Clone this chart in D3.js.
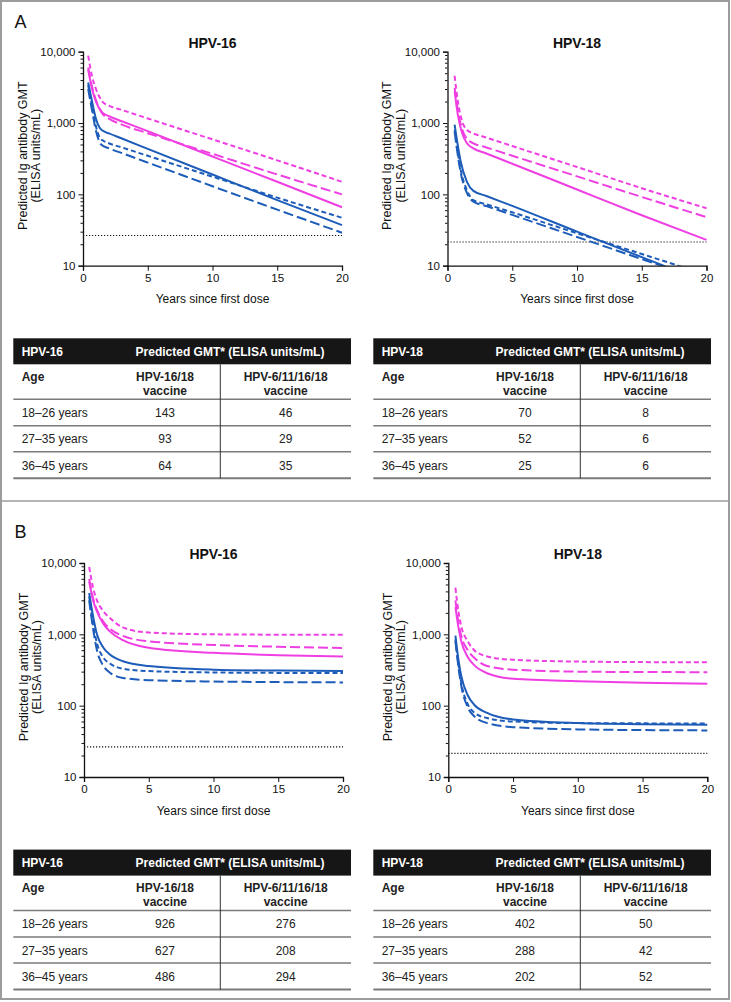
<!DOCTYPE html>
<html><head><meta charset="utf-8">
<script src="https://cdn.jsdelivr.net/npm/d3@7"></script>
<style>
html,body{margin:0;padding:0;background:#fff;}
svg{display:block;font-family:"Liberation Sans",Arial,Helvetica,sans-serif;}
</style></head>
<body>
<svg id="fig" width="731" height="1002"></svg>
<script>
// ---------------- DATA ----------------
const xTicks = [0, 5, 10, 15, 20];
const yMajorTicks = [10, 100, 1000, 10000];
const ageGroups = ["18–26 years", "27–35 years", "36–45 years"];
const vaccineCols = [["HPV-16/18", "vaccine"], ["HPV-6/11/16/18", "vaccine"]];

// Panel A – HPV-16 ([year, GMT])
const A16_pinkShort = [[0.4,8800],[0.7,4500],[1,3000],[1.5,2000],[2,1750],[3,1527],[5,1160],[10,590],[15,300],[20,150]];
const A16_pinkLong  = [[0.4,6000],[0.7,3200],[1,2100],[1.5,1350],[2,1150],[3,950],[5,720],[10,370],[15,190],[20,100]];
const A16_pinkSolid = [[0.4,5600],[0.7,3000],[1,2000],[1.5,1400],[2,1250],[3,1060],[5,770],[10,340],[15,150],[20,66]];
const A16_blueSolid = [[0.4,3700],[0.7,2000],[1,1150],[1.3,850],[1.7,750],[2,716],[3,606],[5,435],[10,190],[15,83],[20,37]];
const A16_blueShort = [[0.4,3400],[0.7,1700],[1,900],[1.3,620],[1.6,560],[2,520],[3,455],[5,347],[10,177],[15,90],[20,47]];
const A16_blueLong  = [[0.4,3000],[0.7,1500],[1,780],[1.4,500],[2,442],[3,379],[5,279],[10,130],[15,61],[20,29]];
// Panel A – HPV-18
const A18_pinkShort = [[0.55,4600],[0.8,2000],[1.1,1100],[1.5,800],[2,716],[3,625],[5,476],[10,242],[15,122],[20,64]];
const A18_pinkLong  = [[0.55,3100],[0.8,1500],[1.1,850],[1.5,600],[2,520],[3,455],[5,348],[10,179],[15,92],[20,48]];
const A18_pinkSolid = [[0.55,2800],[0.8,1300],[1.1,750],[1.5,520],[2,442],[3,374],[5,269],[10,117],[15,51],[20,23]];
const A18_blueSolid = [[0.55,950],[0.8,480],[1,300],[1.5,150],[2,112],[3,95],[5,69],[10,30],[15,13.2],[20,5.8]];
const A18_blueShort = [[0.55,800],[0.8,380],[1,230],[1.5,115],[2,83],[3,72.6],[5,56],[10,28.5],[15,14.6],[20,7.5]];
const A18_blueLong  = [[0.55,750],[0.8,350],[1,210],[1.5,105],[2,79],[3,68.6],[5,51.5],[10,25.3],[15,12.4],[20,6.1]];
// Panel B – HPV-16
const B16_pinkShort = [[0.4,8800],[0.7,4500],[1,3000],[1.5,2100],[2,1700],[3,1250],[5,1060],[10,1000],[15,990],[20,990]];
const B16_pinkLong  = [[0.4,6000],[0.7,3200],[1,2200],[1.5,1500],[2,1200],[3,950],[5,800],[10,710],[15,670],[20,645]];
const B16_pinkSolid = [[0.4,5500],[0.7,3000],[1,2100],[1.5,1400],[2,1100],[3,830],[5,650],[10,550],[15,510],[20,490]];
const B16_blueSolid = [[0.4,3800],[0.7,1800],[1,1000],[1.5,650],[2,520],[3,420],[5,360],[10,320],[15,310],[20,305]];
const B16_blueShort = [[0.4,3400],[0.7,1400],[1,750],[1.5,470],[2,390],[3,330],[5,305],[10,292],[15,288],[20,286]];
const B16_blueLong  = [[0.4,3000],[0.7,1200],[1,600],[1.5,360],[2,290],[3,245],[5,228],[10,218],[15,214],[20,212]];
// Panel B – HPV-18
const B18_pinkShort = [[0.55,4500],[0.8,2000],[1,1300],[1.5,800],[2,600],[3,490],[5,440],[10,415],[15,408],[20,405]];
const B18_pinkLong  = [[0.55,3000],[0.8,1400],[1,950],[1.5,600],[2,470],[3,360],[5,320],[10,300],[15,296],[20,295]];
const B18_pinkSolid = [[0.55,2400],[0.8,1200],[1,800],[1.5,480],[2,370],[3,285],[5,238],[10,220],[15,210],[20,203]];
const B18_blueSolid = [[0.55,960],[0.8,420],[1,260],[1.5,140],[2,103],[3,79],[5,64],[10,57],[15,55],[20,54]];
const B18_blueShort = [[0.55,850],[0.8,360],[1,210],[1.5,105],[2,80],[3,67],[5,60],[10,57],[15,56.5],[20,56]];
const B18_blueLong  = [[0.55,800],[0.8,330],[1,190],[1.5,95],[2,71],[3,57],[5,50],[10,46.5],[15,45.5],[20,45]];

// cut-off (dotted) levels
const cutoffHPV16 = 26.5;
const cutoffHPV18 = 21.5;

// Tables
const tA16_bivalent = [143, 93, 64];
const tA16_quad     = [46, 29, 35];
const tA18_bivalent = [70, 52, 25];
const tA18_quad     = [8, 6, 6];
const tB16_bivalent = [926, 627, 486];
const tB16_quad     = [276, 208, 294];
const tB18_bivalent = [402, 288, 202];
const tB18_quad     = [50, 42, 52];

// ---------------- DRAWING ----------------
const PINK = "#ef3fe2", BLUE = "#1d5cb9";
const styles = {
  solid: null,
  long: "10,4",
  short: "5,3"
};
const svg = d3.select("#fig");

// panel borders
svg.append("rect").attr("x",1).attr("y",1).attr("width",728).attr("height",998)
  .attr("fill","none").attr("stroke","#9c9c9c").attr("stroke-width",2);
svg.append("line").attr("x1",1).attr("x2",729).attr("y1",501).attr("y2",501)
  .attr("stroke","#9c9c9c").attr("stroke-width",1.5);

const W = 259, H = 214;
let clipId = 0;

function drawChart(left, top, title, series, cutoff) {
  const g = svg.append("g").attr("transform", `translate(${left},${top})`);
  const x = d3.scaleLinear().domain([0,20]).range([0,W]);
  const y = d3.scaleLog().domain([10,10000]).range([H,0]);

  const cid = "clip" + (clipId++);
  g.append("clipPath").attr("id", cid).append("rect")
    .attr("x",0).attr("y",-2).attr("width",W+3).attr("height",H+2);

  // title
  g.append("text").attr("x", W/2).attr("y", -3.7).attr("text-anchor","middle")
    .attr("font-weight","bold").attr("font-size","14px").attr("fill","#111").text(title);

  // lines
  const line = d3.line().x(d=>x(d[0])).y(d=>y(d[1])).curve(d3.curveMonotoneX);
  const plot = g.append("g").attr("clip-path", `url(#${cid})`);
  // cutoff
  plot.append("line").attr("x1",x(0)).attr("x2",x(20)).attr("y1",y(cutoff)).attr("y2",y(cutoff))
    .attr("stroke","#111").attr("stroke-width",1.2).attr("stroke-dasharray","1.2,1.8");
  series.forEach(s => {
    plot.append("path").datum(s.data).attr("d", line)
      .attr("fill","none").attr("stroke", s.color).attr("stroke-width",2)
      .attr("stroke-dasharray", styles[s.style]);
  });

  // axes
  const minorTicks = y.ticks().filter(v => yMajorTicks.indexOf(v) < 0);
  const yMinor = g.append("g").call(d3.axisLeft(y).tickValues(minorTicks).tickSize(2.5).tickFormat(""));
  const yMajor = g.append("g").call(d3.axisLeft(y).tickValues(yMajorTicks).tickSize(4.5).tickPadding(3)
      .tickFormat(d3.format(",")));
  const xAx = g.append("g").attr("transform",`translate(0,${H})`)
      .call(d3.axisBottom(x).tickValues(xTicks).tickSize(5).tickPadding(3));
  [yMinor, yMajor, xAx].forEach(a => {
    a.select(".domain").attr("stroke","#111").attr("stroke-width",1.3);
    a.selectAll(".tick line").attr("stroke","#111").attr("stroke-width",1);
    a.selectAll("text").attr("font-size","11.5px").attr("fill","#111")
      .attr("font-family",'"Liberation Sans",Arial,sans-serif');
  });
  yMinor.select(".domain").remove();

  // axis titles
  g.append("text").attr("x", W/2).attr("y", H + 37.5).attr("text-anchor","middle")
    .attr("font-size","12px").attr("fill","#111").text("Years since first dose");
  const yl = g.append("text").attr("transform", `translate(0,${H/2 - 3}) rotate(-90)`)
    .attr("text-anchor","middle").attr("font-size","12.5px").attr("fill","#111");
  yl.append("tspan").attr("x",0).attr("y",-56.5).text("Predicted Ig antibody GMT");
  yl.append("tspan").attr("x",0).attr("y",-43).text("(ELISA units/mL)");
}

function drawTable(left, top, label, bival, quad) {
  const g = svg.append("g").attr("transform", `translate(${left},${top})`);
  const TW = 337.7, div = 207, c2 = 151.7, c3 = 272.4;
  g.append("rect").attr("x",0).attr("y",0).attr("width",TW).attr("height",26).attr("fill","#161616");
  g.append("text").attr("x",8.4).attr("y",17.5).attr("fill","#fff").attr("font-weight","bold")
    .attr("font-size","12px").text(label);
  g.append("text").attr("x",216.7).attr("y",17.5).attr("fill","#fff").attr("font-weight","bold")
    .attr("font-size","12px").attr("text-anchor","middle").text("Predicted GMT* (ELISA units/mL)");
  // header row 2
  g.append("text").attr("x",8.4).attr("y",42.3).attr("font-weight","bold").attr("font-size","12px")
    .attr("fill","#222").text("Age");
  [c2, c3].forEach((cx, i) => {
    g.append("text").attr("x",cx).attr("y",42.3).attr("text-anchor","middle").attr("font-weight","bold")
      .attr("font-size","12px").attr("fill","#222").text(vaccineCols[i][0]);
    g.append("text").attr("x",cx).attr("y",56.3).attr("text-anchor","middle").attr("font-weight","bold")
      .attr("font-size","12px").attr("fill","#222").text(vaccineCols[i][1]);
  });
  const lineYs = [61, 87.4, 113.4, 140];
  lineYs.forEach((ly, i) => {
    g.append("line").attr("x1",0).attr("x2",TW).attr("y1",ly).attr("y2",ly)
      .attr("stroke","#7a7a7a").attr("stroke-width", i === 3 ? 2 : 1.5);
  });
  g.append("line").attr("x1",div).attr("x2",div).attr("y1",26).attr("y2",140)
    .attr("stroke","#333").attr("stroke-width",1);
  const rowCenters = [74.4, 100.7, 127];
  ageGroups.forEach((a, i) => {
    const by = rowCenters[i] + 4.3;
    g.append("text").attr("x",8.4).attr("y",by).attr("font-size","12px").attr("fill","#222").text(a);
    g.append("text").attr("x",c2).attr("y",by).attr("text-anchor","middle").attr("font-size","12px")
      .attr("fill","#222").text(bival[i]);
    g.append("text").attr("x",c3).attr("y",by).attr("text-anchor","middle").attr("font-size","12px")
      .attr("fill","#222").text(quad[i]);
  });
}

function mk(ps, pl, pso, bs, bsh, bl) {
  return [
    {data: ps, color: PINK, style: "short"},
    {data: pl, color: PINK, style: "long"},
    {data: pso, color: PINK, style: "solid"},
    {data: bs, color: BLUE, style: "solid"},
    {data: bsh, color: BLUE, style: "short"},
    {data: bl, color: BLUE, style: "long"}
  ];
}

const OFF = 511.3;
// Panel letters
svg.append("text").attr("x",14.5).attr("y",27.7).attr("font-size","18px").attr("fill","#111").text("A");
svg.append("text").attr("x",14.5).attr("y",27.7+OFF-1).attr("font-size","18px").attr("fill","#111").text("B");

drawChart(83, 51.7, "HPV-16", mk(A16_pinkShort,A16_pinkLong,A16_pinkSolid,A16_blueSolid,A16_blueShort,A16_blueLong), cutoffHPV16);
drawChart(447.5, 51.7, "HPV-18", mk(A18_pinkShort,A18_pinkLong,A18_pinkSolid,A18_blueSolid,A18_blueShort,A18_blueLong), cutoffHPV18);
drawChart(84, 51.7+OFF, "HPV-16", mk(B16_pinkShort,B16_pinkLong,B16_pinkSolid,B16_blueSolid,B16_blueShort,B16_blueLong), cutoffHPV16);
drawChart(448.3, 51.7+OFF, "HPV-18", mk(B18_pinkShort,B18_pinkLong,B18_pinkSolid,B18_blueSolid,B18_blueShort,B18_blueLong), cutoffHPV18);

drawTable(13.3, 338.3, "HPV-16", tA16_bivalent, tA16_quad);
drawTable(373.3, 338.3, "HPV-18", tA18_bivalent, tA18_quad);
drawTable(13.3, 338.3+OFF, "HPV-16", tB16_bivalent, tB16_quad);
drawTable(373.3, 338.3+OFF, "HPV-18", tB18_bivalent, tB18_quad);
</script>
</body></html>
